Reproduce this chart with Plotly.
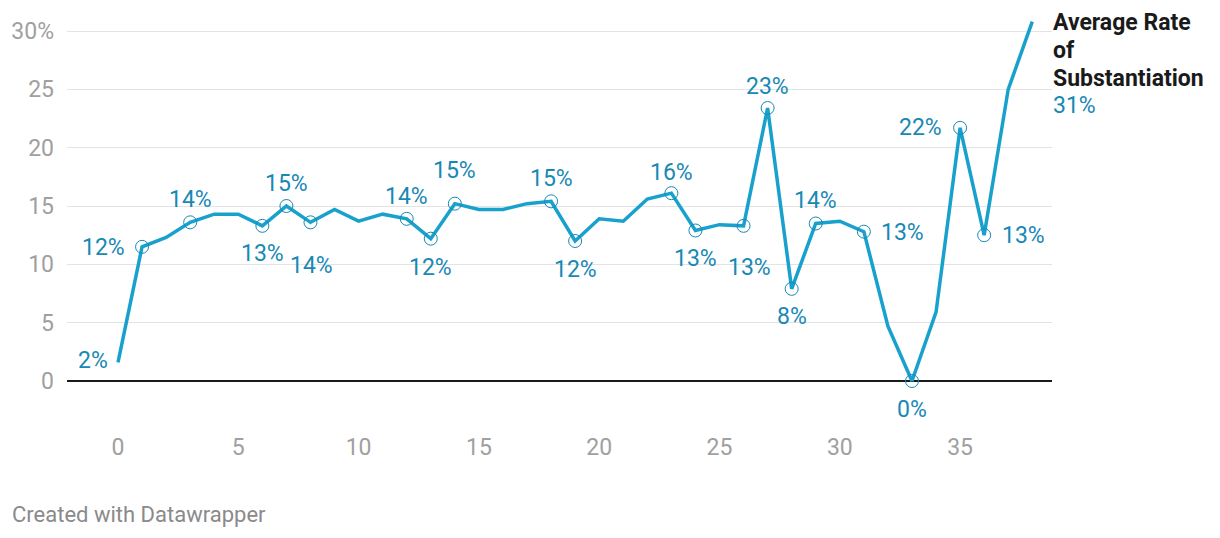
import plotly.graph_objects as go

# ---- data ----
years = list(range(39))
rate = [1.6, 11.5, 12.3, 13.6, 14.3, 14.3, 13.3, 15.0, 13.6, 14.7,
        13.7, 14.3, 13.9, 12.2, 15.2, 14.7, 14.7, 15.2, 15.4, 12.0,
        13.9, 13.7, 15.6, 16.1, 12.9, 13.4, 13.3, 23.4, 7.9, 13.5,
        13.7, 12.8, 4.7, 0.0, 5.9, 21.7, 12.5, 25.0, 30.8]
series_name = "Average Rate of Substantiation"
y_tick_vals = [0, 5, 10, 15, 20, 25, 30]
y_tick_text = ["0", "5", "10", "15", "20", "25", "30%"]
x_tick_vals = [0, 5, 10, 15, 20, 25, 30, 35]

# ---- label placement (style): index -> (dx, dy) screen px of text centre ----
label_place = {
    0: (-25, -2), 1: (-39, 1), 3: (0, -23), 6: (0, 28), 7: (0, -23),
    8: (1, 43), 12: (0, -22), 13: (0, 29), 14: (0, -33), 18: (0, -23),
    19: (0, 28), 23: (0, -21), 24: (0, 28), 26: (6, 42), 27: (0, -22),
    28: (0, 28), 29: (0, -23), 31: (39, 1), 33: (0, 28), 35: (-40, 0),
    36: (39, 0),
}
marker_idx = [i for i in label_place if i != 0]

LINE = "#18a1cd"
LABEL = "#1888b5"
GRAY = "#a0a0a0"
FONT = "Roboto"
FS = 23

# page body has an 8px default margin -> figure drawn 8px smaller
W, H = 1212, 530
PL, PR_, PT, PB = 59, 1044, 2, 417   # plot area in figure px

fig = go.Figure()
fig.add_trace(go.Scatter(x=years, y=rate, mode="lines",
                         line=dict(color=LINE, width=3.5), hoverinfo="skip",
                         showlegend=False))
fig.add_trace(go.Scatter(x=[years[i] for i in marker_idx],
                         y=[rate[i] for i in marker_idx], mode="markers",
                         marker=dict(symbol="circle-open", size=13,
                                     color=LABEL, line=dict(width=1)),
                         hoverinfo="skip", showlegend=False, cliponaxis=False))

for i, (dx, dy) in label_place.items():
    fig.add_annotation(x=years[i], y=rate[i], text=f"{int(rate[i] + 0.5)}%",
                       showarrow=False, xanchor="center", yanchor="middle",
                       xshift=dx, yshift=-dy,
                       font=dict(family=FONT, size=FS, color=LABEL))

# series label at end of line
last = len(years) - 1
name_lines = ["Average Rate", "of", "Substantiation"]
for k, t in enumerate(name_lines):
    fig.add_annotation(x=years[last], y=rate[last], text=f"<b>{t}</b>",
                       showarrow=False, xanchor="left", yanchor="middle",
                       xshift=19, yshift=-(1 + 27.7 * k),
                       font=dict(family=FONT, size=23, color="#1a1a1a"))
fig.add_annotation(x=years[last], y=rate[last], text=f"{int(rate[last] + 0.5)}%",
                   showarrow=False, xanchor="left", yanchor="middle",
                   xshift=19, yshift=-(1 + 27.7 * 3),
                   font=dict(family=FONT, size=FS, color=LABEL))

pw, ph = PR_ - PL, PB - PT
fig.add_annotation(xref="paper", yref="paper", x=(2 - PL) / pw,
                   y=(PB - 506) / ph, text="Created with Datawrapper",
                   showarrow=False, xanchor="left", yanchor="middle",
                   font=dict(family=FONT, size=22, color="#8a8a8a"))

ppu_y = 350 / 30
ppu_x = 24.06
fig.update_layout(
    width=W, height=H,
    margin=dict(l=PL, r=W - PR_, t=PT, b=H - PB, pad=0),
    paper_bgcolor="white", plot_bgcolor="white",
    font=dict(family=FONT, size=FS, color=GRAY),
    xaxis=dict(range=[(67 - 118) / ppu_x, (1052 - 118) / ppu_x],
               tickvals=x_tick_vals, showgrid=False, zeroline=False,
               showline=False, ticks="", ticklabelstandoff=6,
               tickfont=dict(family=FONT, size=FS, color=GRAY)),
    yaxis=dict(range=[(381 - 425) / ppu_y, 30 + 21 / ppu_y],
               tickvals=y_tick_vals, ticktext=y_tick_text,
               showgrid=True, gridcolor="#e3e3e3", gridwidth=1,
               zeroline=True, zerolinecolor="#1a1a1a", zerolinewidth=2,
               showline=False, ticks="", ticklabelstandoff=12,
               tickfont=dict(family=FONT, size=FS, color=GRAY)),
)

fig.write_html("out.html")
